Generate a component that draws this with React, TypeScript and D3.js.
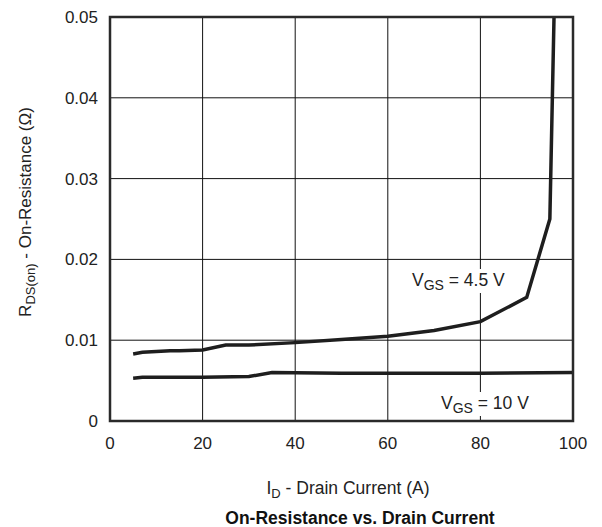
import { useEffect, useRef } from 'react';
import * as d3 from 'd3';

// Drain current (A) vs on-resistance (Ohm)
const id45 = [5, 7, 10, 13, 15, 20, 25, 30, 40, 50, 60, 70, 80, 90, 95, 95.9];
const rds45 = [0.0083, 0.0085, 0.0086, 0.0087, 0.0087, 0.0088, 0.0094, 0.0094, 0.0097, 0.0101, 0.0105, 0.0112, 0.0123, 0.0153, 0.025, 0.05];
const id10 = [5, 7, 10, 20, 30, 35, 50, 60, 80, 100];
const rds10 = [0.0053, 0.0054, 0.0054, 0.0054, 0.0055, 0.006, 0.0059, 0.0059, 0.0059, 0.006];
const xTicks = [0, 20, 40, 60, 80, 100];
const yTicks = [0, 0.01, 0.02, 0.03, 0.04, 0.05];

export default function App() {
  const ref = useRef<SVGSVGElement>(null);

  useEffect(() => {
    if (!ref.current) return;
    const svg = d3.select(ref.current);
    svg.selectAll('*').remove();

    const left = 110, right = 573, top = 17, bottom = 421;
    const x = d3.scaleLinear().domain([0, 100]).range([left, right]);
    const y = d3.scaleLinear().domain([0, 0.05]).range([bottom, top]);
    const font = '"Liberation Sans", Arial, sans-serif';

    // grid
    const g = svg.append('g');
    g.selectAll('line.vx').data(xTicks.slice(1, -1)).enter().append('line')
      .attr('x1', d => x(d)).attr('x2', d => x(d)).attr('y1', top).attr('y2', bottom)
      .attr('stroke', '#111').attr('stroke-width', 1);
    g.selectAll('line.hy').data(yTicks.slice(1, -1)).enter().append('line')
      .attr('x1', left).attr('x2', right).attr('y1', d => y(d)).attr('y2', d => y(d))
      .attr('stroke', '#111').attr('stroke-width', 1);

    // curve labels with white backing
    const labels = [
      { x: 412, y: 286, rest: ' = 4.5 V', w: 100 },
      { x: 441, y: 409, rest: ' = 10 V', w: 96 },
    ];
    labels.forEach(l => {
      svg.append('rect').attr('x', l.x - 2).attr('y', l.y - 17).attr('width', l.w).attr('height', 24).attr('fill', '#fff');
      const t = svg.append('text').attr('x', l.x).attr('y', l.y)
        .attr('font-family', font).attr('font-size', 17.5).attr('fill', '#222');
      t.append('tspan').text('V');
      t.append('tspan').attr('dy', 4).attr('font-size', 14).text('GS');
      t.append('tspan').attr('dy', -4).text(l.rest);
    });

    const line = d3.line<[number, number]>().x(d => x(d[0])).y(d => y(d[1]));
    const clip = svg.append('clipPath').attr('id', 'plotclip');
    clip.append('rect').attr('x', left).attr('y', top).attr('width', right - left).attr('height', bottom - top);

    svg.append('path')
      .datum(id45.map((d, i) => [d, rds45[i]] as [number, number]))
      .attr('d', line).attr('fill', 'none').attr('stroke', '#1e1e1e').attr('stroke-width', 3.5)
      .attr('clip-path', 'url(#plotclip)');
    svg.append('path')
      .datum(id10.map((d, i) => [d, rds10[i]] as [number, number]))
      .attr('d', line).attr('fill', 'none').attr('stroke', '#1e1e1e').attr('stroke-width', 3.5)
      .attr('clip-path', 'url(#plotclip)');

    // frame
    svg.append('rect').attr('x', left).attr('y', top).attr('width', right - left).attr('height', bottom - top)
      .attr('fill', 'none').attr('stroke', '#2a2a2a').attr('stroke-width', 2.5);

    // tick labels
    svg.selectAll('text.xt').data(xTicks).enter().append('text')
      .attr('x', d => x(d)).attr('y', bottom + 28).attr('text-anchor', 'middle')
      .attr('font-family', font).attr('font-size', 17).attr('fill', '#222')
      .text(d => String(d));
    svg.selectAll('text.yt').data(yTicks).enter().append('text')
      .attr('x', left - 12).attr('y', d => y(d) + 6).attr('text-anchor', 'end')
      .attr('font-family', font).attr('font-size', 17).attr('fill', '#222')
      .text(d => (d === 0 ? '0' : d3.format('.2f')(d)));

    // x axis title
    const xt = svg.append('text').attr('x', 348).attr('y', 494).attr('text-anchor', 'middle')
      .attr('font-family', font).attr('font-size', 17.5).attr('fill', '#222');
    xt.append('tspan').text('I');
    xt.append('tspan').attr('dy', 4).attr('font-size', 13).text('D');
    xt.append('tspan').attr('dy', -4).text(' - Drain Current (A)');

    // y axis title
    const yt = svg.append('text').attr('transform', 'translate(31,212) rotate(-90)')
      .attr('text-anchor', 'middle').attr('font-family', font).attr('font-size', 17).attr('fill', '#222');
    yt.append('tspan').text('R');
    yt.append('tspan').attr('dy', 4).attr('font-size', 13).text('DS(on)');
    yt.append('tspan').attr('dy', -4).text(' - On-Resistance (\u03A9)');

    // chart title
    svg.append('text').attr('x', 360).attr('y', 524).attr('text-anchor', 'middle')
      .attr('font-family', font).attr('font-size', 17.5).attr('font-weight', 'bold').attr('fill', '#111')
      .text('On-Resistance vs. Drain Current');
  }, []);

  return <svg ref={ref} width={602} height={527} style={{ position: 'absolute', left: 0, top: 0 }} />;
}
